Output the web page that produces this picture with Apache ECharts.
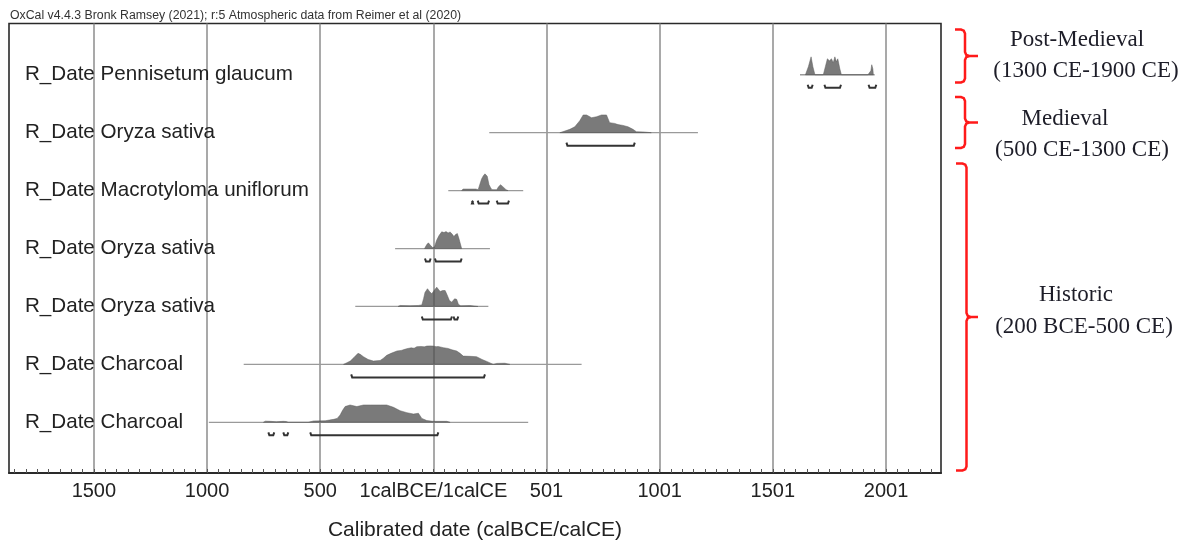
<!DOCTYPE html>
<html>
<head>
<meta charset="utf-8">
<script src="https://cdn.jsdelivr.net/npm/echarts@6/dist/echarts.min.js"></script>
<style>
  html, body { margin: 0; padding: 0; background: #fff; }
  #main { width: 1189px; height: 541px; }
</style>
</head>
<body>
<div id="main"></div>
<script>
// years on the axis: 0 = 1calBCE/1calCE, negative = BCE
const rowNames = [
  'R_Date Pennisetum glaucum',
  'R_Date Oryza sativa',
  'R_Date Macrotyloma uniflorum',
  'R_Date Oryza sativa',
  'R_Date Oryza sativa',
  'R_Date Charcoal',
  'R_Date Charcoal'
];
// span of the thin line under each plot
const rowSpans = [[1620, 1950], [247, 1169], [66, 397], [-169, 250], [-345, 243], [-838, 655], [-992, 419]];

// probability curves: [year, relative density]
const curvePennisetum = [[1644,0],[1657,0.41],[1669,0.91],[1677,0.41],[1686,0],[1723,0],[1732,0.41],[1741,0.81],[1750,0.71],[1759,0.81],[1767,0.61],[1774,0.91],[1781,0.66],[1787,0.81],[1796,0.3],[1803,0],[1920,0],[1933,0.2],[1937,0.51],[1942,0.3],[1944,0]];
const curveOryza1 = [[559,0],[603,0.17],[625,0.3],[647,0.61],[662,0.9],[677,0.9],[699,0.76],[721,0.81],[743,0.9],[765,0.9],[779,0.51],[801,0.47],[816,0.41],[838,0.37],[860,0.3],[882,0.17],[897,0.05],[926,0.04],[963,0]];
const curveMacrotyloma = [[125,0],[131,0.08],[188,0.08],[198,0.05],[206,0.34],[213,0.59],[221,0.76],[228,0.85],[238,0.73],[246,0.3],[253,0.15],[259,0.05],[280,0.05],[288,0.2],[297,0.3],[307,0.2],[321,0.05],[330,0]];
const curveOryza2 = [[-39,0],[-29,0.2],[-22,0.29],[-12,0.15],[-3,0.05],[5,0.08],[14,0.41],[25,0.66],[37,0.85],[47,0.81],[56,0.86],[65,0.79],[74,0.84],[81,0.76],[91,0.61],[98,0.71],[106,0.76],[113,0.51],[125,0]];
const curveOryza3 = [[-156,0],[-147,0.05],[-103,0.04],[-67,0.05],[-51,0.08],[-43,0.41],[-37,0.71],[-26,0.9],[-17,0.76],[-7,0.64],[3,0.81],[15,0.98],[23,0.86],[30,0.76],[41,0.81],[52,0.81],[60,0.61],[71,0.3],[81,0.22],[94,0.39],[103,0.36],[111,0.1],[121,0.04],[162,0.05],[197,0]];
const curveCharcoal1 = [[-397,0],[-367,0.17],[-350,0.36],[-333,0.56],[-323,0.51],[-309,0.39],[-288,0.25],[-265,0.17],[-235,0.2],[-222,0.3],[-206,0.46],[-187,0.56],[-161,0.68],[-142,0.71],[-130,0.75],[-117,0.8],[-98,0.84],[-85,0.82],[-73,0.9],[-54,0.91],[-40,0.89],[-29,0.93],[-15,0.94],[0,0.93],[12,0.9],[21,0.91],[44,0.85],[65,0.81],[82,0.74],[103,0.68],[118,0.56],[132,0.42],[162,0.41],[191,0.39],[215,0.25],[236,0.15],[265,0],[280,0.05],[316,0.06],[338,0]];
const curveCharcoal2 = [[-751,0],[-742,0.06],[-721,0.05],[-694,0.03],[-663,0.05],[-650,0.04],[-641,0],[-553,0],[-529,0.07],[-478,0.08],[-441,0.15],[-425,0.2],[-412,0.37],[-401,0.61],[-390,0.8],[-368,0.88],[-338,0.8],[-309,0.88],[-279,0.88],[-235,0.88],[-206,0.88],[-176,0.76],[-147,0.59],[-117,0.49],[-88,0.42],[-66,0.46],[-51,0.2],[-29,0.09],[-1,0.05],[59,0.05],[74,0]];
const rowCurves = [curvePennisetum, curveOryza1, curveMacrotyloma, curveOryza2, curveOryza3, curveCharcoal1, curveCharcoal2];

// 95.4% ranges drawn as brackets
const rowRanges = [
  [[1654, 1676], [1728, 1801], [1923, 1957]],
  [[588, 890]],
  [[171, 175], [196, 246], [280, 334]],
  [[-37, -12], [7, 125]],
  [[-51, 82], [89, 110]],
  [[-363, 228]],
  [[-729, -703], [-663, -641], [-544, 22]]
];

const majorTicks = [-1500, -1000, -500, 0, 500, 1000, 1500, 2000];
const tickLabels = ['1500', '1000', '500', '1calBCE/1calCE', '501', '1001', '1501', '2001'];
const minorTicks = [];
for (let v = -1850; v <= 2200; v += 50) minorTicks.push(v);

const titleText = 'OxCal v4.4.3 Bronk Ramsey (2021); r:5 Atmospheric data from Reimer et al (2020)';
const periods = [
  { name: 'Post-Medieval', range: '(1300 CE-1900 CE)' },
  { name: 'Medieval', range: '(500 CE-1300 CE)' },
  { name: 'Historic', range: '(200 BCE-500 CE)' }
];

const rowY = [7, 6, 5, 4, 3, 2, 1];
const peakUnits = 0.34;

let myChart = echarts.init(document.getElementById('main'));

// a red curly brace as two polylines (upper and lower half)
function brace(x0, xv, xt, y1, ym, y2) {
  const st = { stroke: '#ff1a1a', fill: null, lineWidth: 2.5 };
  return [
    { type: 'polyline', shape: { points: [[x0, y1], [xv - 4, y1], [xv - 1.2, y1 + 1.2], [xv, y1 + 4], [xv, ym - 4], [xv + 1.2, ym - 1.2], [xv + 4, ym], [xt, ym]] }, style: st },
    { type: 'polyline', shape: { points: [[xv + 4, ym], [xv + 1.2, ym + 1.2], [xv, ym + 4], [xv, y2 - 4], [xv - 1.2, y2 - 1.2], [xv - 4, y2], [x0, y2]] }, style: st }
  ];
}

const serif = '23px "Liberation Serif", "Times New Roman", serif';
const textCol = '#1d1d28';

let option = {
  animation: false,
  grid: {
    left: 9, top: 23.5, right: 248, bottom: 68,
    outerBoundsMode: 'none',
    show: true, borderColor: '#2a2a2a', borderWidth: 1.6
  },
  xAxis: [
    {
      type: 'value', min: -1875, max: 2243, position: 'bottom',
      axisLine: { show: true, lineStyle: { color: '#2a2a2a', width: 2 } },
      axisTick: { show: true, inside: true, length: 4, customValues: minorTicks, lineStyle: { color: '#555', width: 1 } },
      axisLabel: {
        customValues: majorTicks,
        formatter: v => tickLabels[majorTicks.indexOf(v)],
        fontSize: 20, fontFamily: '"Liberation Sans", Arial, sans-serif', color: '#222', margin: 8
      },
      splitLine: { show: false },
      name: 'Calibrated date (calBCE/calCE)',
      nameLocation: 'middle', nameGap: 47,
      nameTextStyle: { fontSize: 21, fontFamily: '"Liberation Sans", Arial, sans-serif', color: '#222' }
    },
    {
      type: 'value', min: -1875, max: 2243, position: 'top',
      axisLine: { show: false },
      axisTick: { show: false, customValues: majorTicks },
      axisLabel: { show: false },
      splitLine: { show: true, lineStyle: { color: '#8c8c8c', width: 1.5 } }
    }
  ],
  yAxis: { type: 'value', min: 0.125, max: 7.885, show: false },
  graphic: [
    {
      type: 'text', x: 10, y: 10,
      style: { text: titleText, font: '12.3px "Liberation Sans", Arial, sans-serif', fill: '#333' }
    },
    ...brace(955, 965, 978, 29.5, 56, 82.5),
    ...brace(955, 965, 978, 97, 122.5, 148),
    ...brace(956, 966.5, 978, 163.5, 317, 470.5),
    { type: 'text', x: 1077, y: 39.5, style: { text: periods[0].name, align: 'center', verticalAlign: 'middle', font: serif, fill: textCol } },
    { type: 'text', x: 1086, y: 71, style: { text: periods[0].range, align: 'center', verticalAlign: 'middle', font: serif, fill: textCol } },
    { type: 'text', x: 1065, y: 118.5, style: { text: periods[1].name, align: 'center', verticalAlign: 'middle', font: serif, fill: textCol } },
    { type: 'text', x: 1082, y: 150, style: { text: periods[1].range, align: 'center', verticalAlign: 'middle', font: serif, fill: textCol } },
    { type: 'text', x: 1076, y: 295, style: { text: periods[2].name, align: 'center', verticalAlign: 'middle', font: serif, fill: textCol } },
    { type: 'text', x: 1084, y: 327, style: { text: periods[2].range, align: 'center', verticalAlign: 'middle', font: serif, fill: textCol } }
  ],
  series: [
    {
      type: 'custom',
      xAxisIndex: 0,
      silent: true,
      data: rowNames.map((n, i) => [i]),
      renderItem: function (params, api) {
        const i = api.value(0);
        const yv = rowY[i];
        const curve = rowCurves[i];
        const a = api.coord([rowSpans[i][0], yv]);
        const b = api.coord([rowSpans[i][1], yv]);
        let pts = curve.map(p => api.coord([p[0], yv + p[1] * peakUnits]));
        pts.unshift(api.coord([curve[0][0], yv]));
        pts.push(api.coord([curve[curve.length - 1][0], yv]));
        const children = [
          { type: 'line', shape: { x1: a[0], y1: a[1], x2: b[0], y2: b[1] }, style: { stroke: '#9a9a9a', lineWidth: 1.3 } },
          { type: 'polygon', shape: { points: pts }, style: { fill: 'rgba(80,80,80,0.76)', stroke: 'rgba(90,90,90,0.8)', lineWidth: 0.6 } }
        ];
        rowRanges[i].forEach(r => {
          const p = api.coord([r[0], yv]);
          const q = api.coord([r[1], yv]);
          const y = p[1] + 13;
          children.push({
            type: 'polyline',
            shape: { points: [[p[0], y - 3], [p[0] + 1, y], [q[0] - 1, y], [q[0], y - 3]] },
            style: { stroke: '#333', lineWidth: 2, fill: null }
          });
        });
        children.push({
          type: 'text',
          style: {
            text: rowNames[i], x: params.coordSys.x + 16, y: a[1] - 0.5,
            verticalAlign: 'middle', font: '20.6px "Liberation Sans", Arial, sans-serif', fill: '#222'
          }
        });
        return { type: 'group', children: children };
      }
    }
  ]
};

myChart.setOption(option);
</script>
</body>
</html>
